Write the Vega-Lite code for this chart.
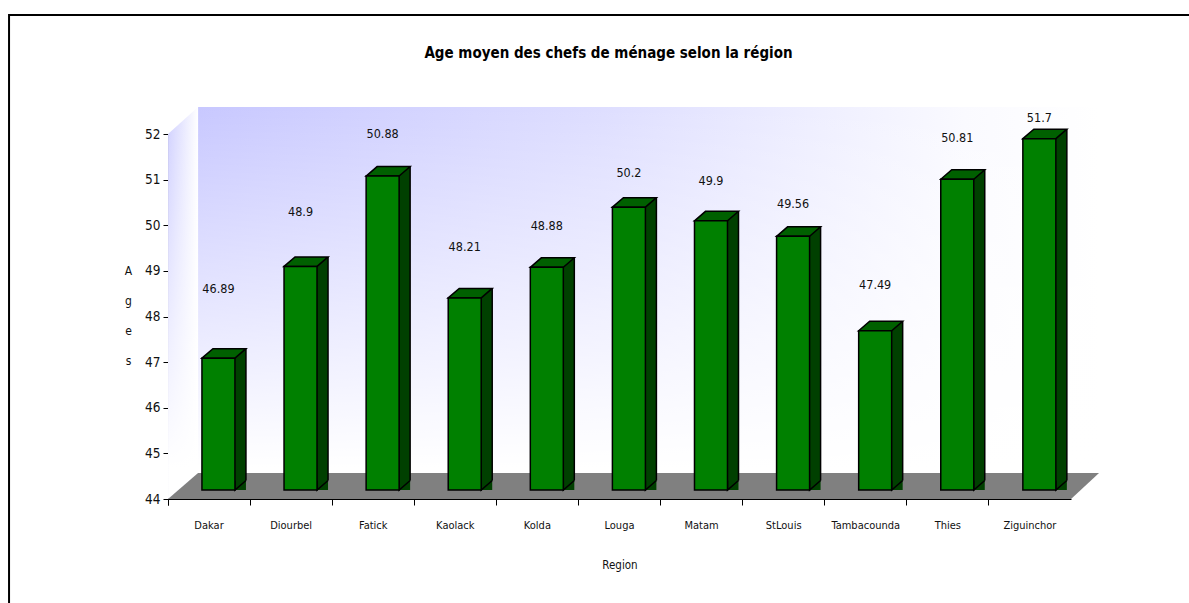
{
"$schema":"https://vega.github.io/schema/vega-lite/v6.json",
"width":903,"height":365,
"autosize":{"type":"none"},
"padding":{"left":168,"top":134,"right":118,"bottom":104},
"background":"white",
"config":{"view":{"stroke":null},"font":"DejaVu Sans Condensed"},
"title":{"text":"Age moyen des chefs de ménage selon la région","font":"DejaVu Sans Condensed","fontWeight":"bold","fontSize":15,"color":"#000000","anchor":"middle","frame":"group","dx":-11,"offset":-50},
"data":{"values":[
{"region":"Dakar","age":46.89},
{"region":"Diourbel","age":48.9},
{"region":"Fatick","age":50.88},
{"region":"Kaolack","age":48.21},
{"region":"Kolda","age":48.88},
{"region":"Louga","age":50.2},
{"region":"Matam","age":49.9},
{"region":"StLouis","age":49.56},
{"region":"Tambacounda","age":47.49},
{"region":"Thies","age":50.81},
{"region":"Ziguinchor","age":51.7}
]},
"encoding":{
"x":{"field":"region","type":"nominal","sort":null,
 "scale":{"paddingInner":0,"paddingOuter":0},
 "axis":{"title":"Region","titleFont":"DejaVu Sans Condensed","titleFontWeight":"normal","titleFontSize":11.5,"titleColor":"#111","titleY":60,"labelAngle":0,"labelFontSize":11,"labelColor":"#111","labelPadding":14,"bandPosition":0,"tickExtra":true,"tickSize":6,"tickColor":"#000","domainColor":"#000","grid":false}},
"y":{"field":"age","type":"quantitative",
 "scale":{"domain":[44,52],"zero":false,"nice":false},
 "axis":{"values":[44,45,46,47,48,49,50,51,52],"format":"d","title":["A","g","e","s"],"titleAngle":0,"titleFont":"DejaVu Sans Condensed","titleFontWeight":"normal","titleFontSize":12,"titleColor":"#111","titleLineHeight":30,"titleX":-40,"titleY":136,"titleAlign":"center","titleBaseline":"middle","labelFontSize":13.5,"labelColor":"#111","labelPadding":3,"tickSize":5,"tickColor":"#000","domainColor":"#000","grid":false}}
},
"layer":[
{"transform":[{"filter":"datum.region==='Dakar'"}],"mark":{"type":"point","filled":false,"opacity":1,"size":4,"xOffset":-41,"shape":"M-159 500L-159 -484L1030 -484","stroke":"#000","strokeWidth":2,"fill":null},
 "encoding":{"y":{"datum":44,"type":"quantitative"}}},
{"transform":[{"filter":"datum.region==='Dakar'"}],"mark":{"type":"point","filled":true,"opacity":1,"size":4,"xOffset":-41,"shape":"M30 -26L931 -26L931 -392L30 -392Z","strokeWidth":0,
  "fill":{"gradient":"linear","x1":0,"y1":0,"x2":1,"y2":0,"stops":[{"offset":0,"color":"#c8c8ff"},{"offset":0.45,"color":"#dedeff"},{"offset":0.85,"color":"#fafaff"},{"offset":1,"color":"#ffffff"}]}},
 "encoding":{"y":{"datum":44,"type":"quantitative"}}},
{"transform":[{"filter":"datum.region==='Dakar'"}],"mark":{"type":"point","filled":true,"opacity":1,"size":4,"xOffset":-41,"shape":"M0 0L30 -26L30 -392L0 -365Z","strokeWidth":0,
  "fill":{"gradient":"linear","x1":0,"y1":0,"x2":1,"y2":0,"stops":[{"offset":0,"color":"#d0d0ff"},{"offset":1,"color":"#ffffff"}]}},
 "encoding":{"y":{"datum":44,"type":"quantitative"}}},
{"transform":[{"filter":"datum.region==='Dakar'"}],"mark":{"type":"point","filled":true,"opacity":1,"size":4,"xOffset":-41,"shape":"M0 0L30 -26L931 -26L931 -392L0 -392Z","strokeWidth":0,
  "fill":{"gradient":"linear","x1":0,"y1":0,"x2":0,"y2":1,"stops":[{"offset":0,"color":"rgba(255,255,255,0)"},{"offset":0.55,"color":"rgba(255,255,255,0.6)"},{"offset":0.92,"color":"rgba(255,255,255,1)"}]}},
 "encoding":{"y":{"datum":44,"type":"quantitative"}}},
{"transform":[{"filter":"datum.region==='Dakar'"}],"mark":{"type":"point","filled":true,"opacity":1,"size":4,"xOffset":-41,"shape":"M0 0L30 -26L931 -26L903 0Z","strokeWidth":0,"fill":"#808080"},
 "encoding":{"y":{"datum":44,"type":"quantitative"}}},
{"mark":{"type":"bar","width":33,"xOffset":20.4,"x2Offset":20.4,"yOffset":-18.5,"y2Offset":-9,"fill":"#004000","stroke":null,"strokeWidth":0},
 "encoding":{"y2":{"datum":44}}},
{"mark":{"type":"rule","xOffset":36.9,"yOffset":-18.5,"y2Offset":-18.5,"stroke":"#000","strokeWidth":1.5},
 "encoding":{"y2":{"datum":44}}},
{"mark":{"type":"point","filled":true,"opacity":1,"size":4,"xOffset":9.4,"yOffset":-9,"shape":"M27.5 -9.5L16.5 0L16.5 -9.5","fill":"#004000","stroke":"#000","strokeWidth":1.5},
 "encoding":{"y":{"datum":44,"type":"quantitative"}}},
{"mark":{"type":"point","filled":true,"opacity":1,"size":4,"xOffset":9.4,"yOffset":-9,"shape":"M-16.5 0L-5.5 -9.5L27.5 -9.5L16.5 0Z","fill":"#006000","stroke":"#000","strokeWidth":1.5}},
{"mark":{"type":"bar","width":33,"xOffset":9.4,"x2Offset":9.4,"yOffset":-9,"y2Offset":-9,"fill":"#008000","stroke":"#000","strokeWidth":1.5},
 "encoding":{"y2":{"datum":44}}},
{"mark":{"type":"text","xOffset":9.4,"baseline":"middle","align":"center","fontSize":12.5,"color":"#111",
  "dy":{"expr":"{'Dakar':-78,'Diourbel':-63,'Fatick':-51,'Kaolack':-60,'Kolda':-50,'Louga':-43,'Matam':-49,'StLouis':-41,'Tambacounda':-55,'Thies':-50,'Ziguinchor':-30}[datum.region]"}},
 "encoding":{"text":{"field":"age","type":"nominal"}}}
]
}
